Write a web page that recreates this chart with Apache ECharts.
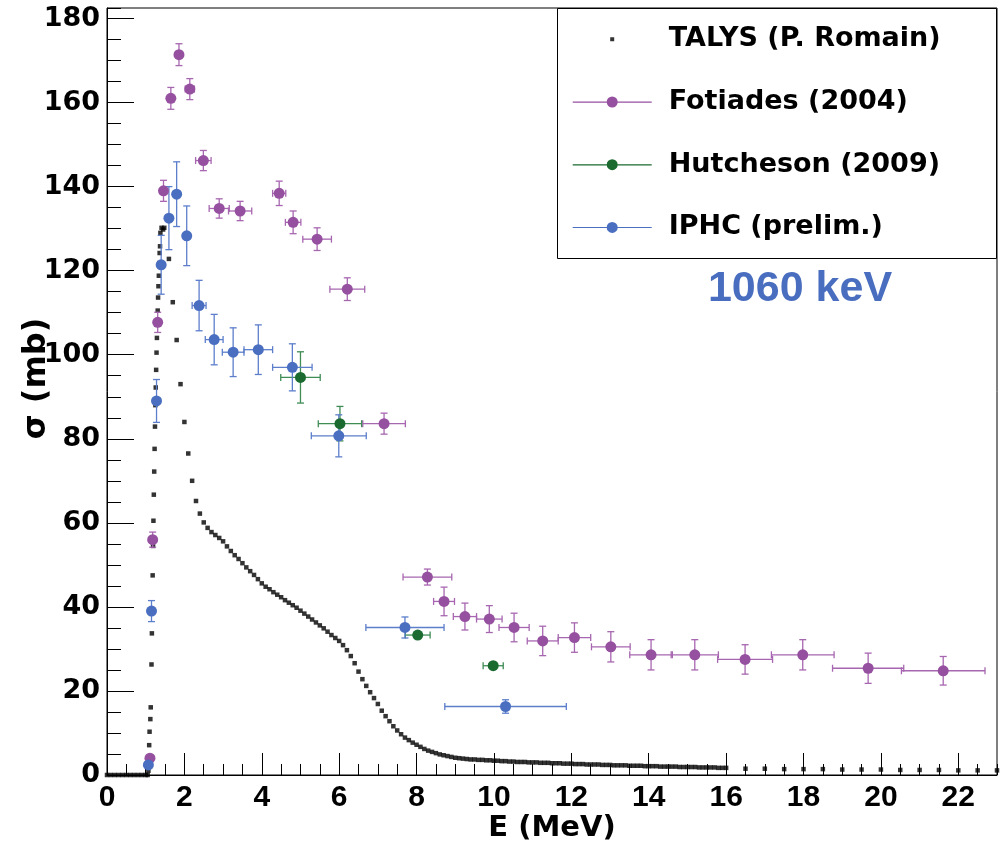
<!DOCTYPE html>
<html>
<head>
<meta charset="utf-8">
<script src="https://cdn.jsdelivr.net/npm/echarts@6/dist/echarts.min.js"></script>
<style>
html, body { margin: 0; padding: 0; background: #ffffff; }
#chart { width: 1003px; height: 847px; }
</style>
</head>
<body>
<div id="chart"></div>
<script>
// ---- TALYS (P. Romain) calculation ----
// zero below threshold and the steep rise near 1.06 MeV
const talysLowEnergy = [0, 0.1, 0.2, 0.3, 0.4, 0.5, 0.6, 0.7, 0.8, 0.9, 1.0, 1.05,
  1.07, 1.08, 1.09, 1.10, 1.12, 1.13, 1.15, 1.16, 1.17, 1.18, 1.19, 1.20,
  1.21, 1.22, 1.23, 1.24, 1.25, 1.26, 1.27, 1.28, 1.29, 1.30, 1.31, 1.32, 1.33, 1.34, 1.35, 1.36, 1.37, 1.38,
  1.41, 1.45, 1.48];
const talysLowSigma = [0, 0, 0, 0, 0, 0, 0, 0, 0, 0, 0, 0,
  1.0, 3.5, 7.1, 10.3, 13.3, 16.1, 26.3, 33.7, 39.5, 47.5, 54.5, 60.5,
  66.7, 72.2, 77.6, 82.9, 88.0, 92.2, 96.4, 100.5, 104.0, 107.5, 110.5, 113.6, 116.3, 118.8, 121.8, 124.2, 125.8, 129.0,
  130.2, 129.8, 130.2];
// regular 0.1 MeV energy grid from 1.6 to 16.0 MeV
const talysGridStart = 1.6;
const talysGridStep = 0.1;
const talysGridSigma = [
  122.8, 112.5, 103.5, 93.0, 84.0, 76.5, 70.0, 65.2, 62.2, 60.1,
  58.8, 57.8, 57.1, 56.4, 55.6, 54.4, 53.3, 52.3, 51.4, 50.4,
  49.4, 48.5, 47.6, 46.6, 45.6, 44.8, 44.2, 43.5, 42.9, 42.3,
  41.6, 41.0, 40.4, 39.8, 39.1, 38.4, 37.7, 37.0, 36.3, 35.6,
  34.9, 34.1, 33.3, 32.6, 31.9, 30.9, 29.7, 28.3, 26.6, 24.6,
  22.8, 21.2, 19.7, 18.3, 16.9, 15.3, 14.0, 12.8, 11.6, 10.6,
  9.7, 8.9, 8.3, 7.7, 7.2, 6.7, 6.2, 5.8, 5.5, 5.2,
  4.9, 4.7, 4.5, 4.3, 4.1, 4.0, 3.9, 3.8, 3.7, 3.7,
  3.6, 3.6, 3.5, 3.5, 3.4, 3.4, 3.3, 3.3, 3.2, 3.2,
  3.1, 3.1, 3.1, 3.0, 3.0, 3.0, 2.9, 2.9, 2.9, 2.8,
  2.8, 2.8, 2.7, 2.7, 2.7, 2.6, 2.6, 2.6, 2.5, 2.5,
  2.5, 2.5, 2.4, 2.4, 2.4, 2.3, 2.3, 2.3, 2.3, 2.2,
  2.2, 2.2, 2.2, 2.1, 2.1, 2.1, 2.1, 2.0, 2.0, 2.0,
  2.0, 2.0, 1.9, 1.9, 1.9, 1.9, 1.9, 1.8, 1.8, 1.8,
  1.8, 1.8, 1.7, 1.7, 1.7];
// coarse tail above 16 MeV
const talysTailEnergy = [16.5, 17, 17.5, 18, 18.5, 19, 19.5, 20, 20.5, 21, 21.5, 22, 22.5, 23];
const talysTailSigma = [1.5, 1.5, 1.4, 1.4, 1.4, 1.3, 1.3, 1.3, 1.2, 1.2, 1.2, 1.1, 1.1, 1.1];

// ---- Fotiades (2004) ----
const fotiadesE      = [1.11, 1.18, 1.31, 1.46, 1.65, 1.86, 2.14, 2.49, 2.90, 3.44, 4.45, 4.81, 5.43, 6.21, 7.16,
                        8.28, 8.71, 9.25, 9.88, 10.52, 11.26, 12.08, 13.02, 14.06, 15.19, 16.49, 17.98, 19.67, 21.61];
const fotiadesSigma  = [4.0, 56.0, 107.7, 139.0, 161.0, 171.4, 163.2, 146.2, 134.8, 134.2, 138.4, 131.5, 127.5, 115.6, 83.6,
                        47.1, 41.3, 37.7, 37.1, 35.1, 31.9, 32.7, 30.5, 28.6, 28.6, 27.5, 28.6, 25.4, 24.8];
const fotiadesDE     = [0, 0, 0, 0, 0, 0, 0.12, 0.2, 0.26, 0.3, 0.17, 0.2, 0.37, 0.45, 0.55,
                        0.63, 0.27, 0.3, 0.33, 0.39, 0.4, 0.42, 0.5, 0.55, 0.61, 0.71, 0.81, 0.92, 1.08];
const fotiadesDSigma = [0.5, 1.8, 2.4, 2.5, 2.6, 2.6, 2.5, 2.4, 2.3, 2.3, 2.9, 2.7, 2.7, 2.7, 2.5,
                        1.9, 3.4, 3.2, 3.2, 3.4, 3.5, 3.5, 3.6, 3.6, 3.6, 3.5, 3.6, 3.6, 3.4];

// ---- Hutcheson (2009) ----
const hutchesonE      = [5.00, 6.02, 8.03, 9.98];
const hutchesonSigma  = [94.6, 83.6, 33.3, 26.0];
const hutchesonDE     = [0.51, 0.56, 0.32, 0.26];
const hutchesonDSigma = [6.1, 4.1, 1.0, 1.0];

// ---- IPHC (prelim.) ----
const iphcE      = [1.07, 1.15, 1.28, 1.40, 1.60, 1.80, 2.06, 2.38, 2.77, 3.26, 3.91, 4.79, 5.99, 7.70, 10.30];
const iphcSigma  = [2.4, 39.0, 89.0, 121.4, 132.5, 138.2, 128.3, 111.7, 103.6, 100.6, 101.2, 97.0, 80.7, 35.1, 16.3];
const iphcDE     = [0, 0, 0, 0, 0, 0, 0, 0.18, 0.23, 0.28, 0.37, 0.51, 0.71, 1.01, 1.57];
const iphcDSigma = [0.8, 2.5, 5.1, 7.0, 7.5, 7.7, 7.1, 6.0, 6.0, 5.8, 5.9, 5.6, 5.0, 2.5, 1.6];

// axis tick labels
const xTickValues = [0, 2, 4, 6, 8, 10, 12, 14, 16, 18, 20, 22];
const yTickValues = [0, 20, 40, 60, 80, 100, 120, 140, 160, 180];

const FONT = '"Liberation Sans", Arial, Helvetica, sans-serif';
const WIDE_FONT = '"DejaVu Sans", "Liberation Sans", sans-serif';
const X_MAX = 23;
const Y_MAX = 182.5;

// assemble the TALYS point list
const talysPoints = [];
talysLowEnergy.forEach((e, i) => talysPoints.push([e, talysLowSigma[i]]));
talysGridSigma.forEach((s, i) => {
  const e = Math.round((talysGridStart + i * talysGridStep) * 100) / 100;
  talysPoints.push([e, s]);
});
talysTailEnergy.forEach((e, i) => talysPoints.push([e, talysTailSigma[i]]));

function pointsOf(E, S) { return E.map((e, i) => [e, S[i]]); }

// error bars with end caps, drawn through the axis scales
function errorBars(id, E, S, dE, dS, color) {
  return {
    type: 'custom',
    id: id,
    name: id,
    silent: true,
    z: 3,
    clip: true,
    encode: { x: 0, y: 1 },
    data: E.map((e, i) => [e, S[i], dE[i], dS[i]]),
    renderItem(params, api) {
      const x = api.value(0), y = api.value(1);
      const dx = api.value(2), dy = api.value(3);
      const c = api.coord([x, y]);
      const style = { stroke: color, lineWidth: 1.3, fill: null };
      const cap = 3.5;
      const children = [];
      if (dy > 0) {
        const t = api.coord([x, y + dy])[1];
        const b = api.coord([x, y - dy])[1];
        if (b - t > 12) {
          children.push({ type: 'line', shape: { x1: c[0], y1: t, x2: c[0], y2: b }, style });
          children.push({ type: 'line', shape: { x1: c[0] - cap, y1: t, x2: c[0] + cap, y2: t }, style });
          children.push({ type: 'line', shape: { x1: c[0] - cap, y1: b, x2: c[0] + cap, y2: b }, style });
        }
      }
      if (dx > 0) {
        const l = api.coord([x - dx, y])[0];
        const r = api.coord([x + dx, y])[0];
        children.push({ type: 'line', shape: { x1: l, y1: c[1], x2: r, y2: c[1] }, style });
        children.push({ type: 'line', shape: { x1: l, y1: c[1] - cap, x2: l, y2: c[1] + cap }, style });
        children.push({ type: 'line', shape: { x1: r, y1: c[1] - cap, x2: r, y2: c[1] + cap }, style });
      }
      return { type: 'group', children };
    }
  };
}

function markers(name, E, S, color) {
  return {
    type: 'scatter',
    name: name,
    data: pointsOf(E, S),
    symbol: 'circle',
    symbolSize: 11,
    itemStyle: { color: color, opacity: 1 },
    z: 4,
    silent: true
  };
}

const colFot = '#9650a0', colFotBar = '#a766b0';
const colHut = '#1b6a30', colHutBar = '#3f8c55';
const colIph = '#4a6ec0', colIphBar = '#5c7ecb';

const lineDotIcon = 'path://M0,5H79V6.2H0Z M34,5.5A5.5,5.5 0 1,1 45,5.5A5.5,5.5 0 1,1 34,5.5Z';
const smallSquareIcon = 'path://M0,0H0.01V0.01H0Z M78.99,10.99H79V11H78.99Z M37.5,3.5H41.5V7.5H37.5Z';

const chart = echarts.init(document.getElementById('chart'), null, { renderer: 'canvas' });

chart.setOption({
  animation: false,
  backgroundColor: '#ffffff',
  grid: {
    left: 107, right: 6, top: 8, bottom: 72,
    show: true, borderColor: '#000', borderWidth: 1,
    outerBoundsMode: 'none'
  },
  xAxis: [
    {
      type: 'value', min: 0, max: X_MAX, interval: 2,
      name: 'E (MeV)', nameLocation: 'middle', nameGap: 39, nameMoveOverlap: false,
      nameTextStyle: { fontFamily: WIDE_FONT, fontWeight: 'bold', fontSize: 29, color: '#000' },
      axisLine: { show: true, lineStyle: { color: '#000', width: 1 } },
      axisTick: { show: true, inside: true, length: 22, lineStyle: { color: '#000', width: 1 } },
      axisLabel: { margin: 8, showMaxLabel: false,
        fontFamily: FONT, fontWeight: 'bold', fontSize: 30, color: '#000',
        formatter: v => (xTickValues.indexOf(v) >= 0 ? String(v) : '') },
      splitLine: { show: false }
    },
    {
      type: 'value', min: 0, max: X_MAX, interval: 0.5, position: 'bottom',
      axisLine: { show: false },
      axisTick: { show: true, inside: true, length: 11, lineStyle: { color: '#000', width: 1 } },
      axisLabel: { show: false },
      splitLine: { show: false }
    }
  ],
  yAxis: [
    {
      type: 'value', min: 0, max: Y_MAX, interval: 20,
      name: 'σ (mb)', nameLocation: 'middle', nameGap: 54, nameMoveOverlap: false,
      nameTextStyle: { fontFamily: WIDE_FONT, fontWeight: 'bold', fontSize: 32, color: '#000', padding: [0, 0, 0, 26] },
      axisLine: { show: true, lineStyle: { color: '#000', width: 1 } },
      axisTick: { show: true, inside: true, length: 27, lineStyle: { color: '#000', width: 1 } },
      axisLabel: { margin: 7, showMaxLabel: false,
        fontFamily: WIDE_FONT, fontWeight: 'bold', fontSize: 27, color: '#000',
        formatter: v => (yTickValues.indexOf(v) >= 0 ? String(v) : '') },
      splitLine: { show: false }
    },
    {
      type: 'value', min: 0, max: Y_MAX, interval: 5, position: 'left',
      axisLine: { show: false },
      axisTick: { show: true, inside: true, length: 14, lineStyle: { color: '#000', width: 1 } },
      axisLabel: { show: false },
      splitLine: { show: false }
    }
  ],
  legend: {
    orient: 'vertical',
    left: 572.7, top: 24.3,
    padding: 0,
    itemWidth: 79, itemHeight: 11, itemGap: 32.7,
    selectedMode: false,
    z: 20,
    textStyle: { fontFamily: WIDE_FONT, fontWeight: 'bold', fontSize: 27, color: '#000', lineHeight: 30, padding: [0, 0, 0, 12] },
    data: [
      { name: 'TALYS (P. Romain)', icon: smallSquareIcon, itemStyle: { color: '#000' } },
      { name: 'Fotiades (2004)', icon: lineDotIcon, itemStyle: { color: colFot } },
      { name: 'Hutcheson (2009)', icon: lineDotIcon, itemStyle: { color: colHut } },
      { name: 'IPHC (prelim.)', icon: lineDotIcon, itemStyle: { color: colIph } }
    ]
  },
  graphic: [
    {
      type: 'rect', z: 10,
      shape: { x: 557.5, y: 8.5, width: 439, height: 250 },
      style: { fill: '#ffffff', stroke: '#000', lineWidth: 1 }
    },
    {
      type: 'text', z: 10,
      x: 800, y: 289,
      style: {
        text: '1060 keV', fill: '#4a6ebf',
        font: 'bold 43px ' + FONT,
        textAlign: 'center', textVerticalAlign: 'middle'
      }
    }
  ],
  series: [
    {
      type: 'scatter', name: 'TALYS (P. Romain)',
      data: talysPoints, symbol: 'rect', symbolSize: 4.5,
      itemStyle: { color: '#000' }, z: 2, silent: true
    },
    errorBars('fotiades-err', fotiadesE, fotiadesSigma, fotiadesDE, fotiadesDSigma, colFotBar),
    markers('Fotiades (2004)', fotiadesE, fotiadesSigma, colFot),
    errorBars('hutcheson-err', hutchesonE, hutchesonSigma, hutchesonDE, hutchesonDSigma, colHutBar),
    markers('Hutcheson (2009)', hutchesonE, hutchesonSigma, colHut),
    errorBars('iphc-err', iphcE, iphcSigma, iphcDE, iphcDSigma, colIphBar),
    markers('IPHC (prelim.)', iphcE, iphcSigma, colIph)
  ]
});
</script>
</body>
</html>
